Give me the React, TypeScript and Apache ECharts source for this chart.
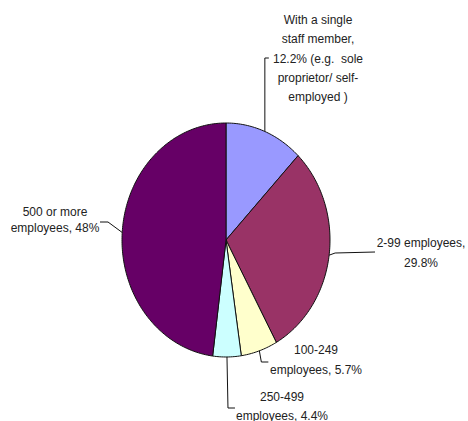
import React, { useEffect, useRef } from "react";
import * as echarts from "echarts";

const categories = [
  "With a single\nstaff member,\n12.2% (e.g.  sole\nproprietor/ self-\nemployed )",
  "2-99 employees,\n29.8%",
  "100-249\nemployees, 5.7%",
  "250-499\nemployees, 4.4%",
  "500 or more\nemployees, 48%",
];
const values = [12.2, 29.8, 5.7, 4.4, 48];
const colors = ["#9999FF", "#993366", "#FFFFCC", "#CCFFFF", "#660066"];

// layout (not data)
const CX = 226, CY = 240, RX = 104, RY = 117;
const labelPos = [
  { x: 318, y: 58.5, lh: 19.2 },
  { x: 421, y: 253, lh: 20 },
  { x: 316, y: 360, lh: 20 },
  { x: 282, y: 406.5, lh: 19 },
  { x: 55, y: 220, lh: 16 },
];
const leaderBends: ((a: number[]) => number[][])[] = [
  (a) => [[a[0], 58], [a[0] + 4, 58]],
  (a) => [[a[0] + 6, 253], [375, 252]],
  (a) => [[a[0] + 2, 362], [a[0] + 9, 362]],
  (a) => [[a[0] + 1, 408], [a[0] + 8, 408]],
  (a) => [[108, 222], [100, 222]],
];

function pt(frac: number) {
  const t = frac * Math.PI * 2;
  return [CX + RX * Math.sin(t), CY - RY * Math.cos(t)];
}

export default function App() {
  const ref = useRef<HTMLDivElement>(null);
  useEffect(() => {
    if (!ref.current) return;
    const chart = echarts.init(ref.current, undefined, { renderer: "svg" });
    const total = values.reduce((s, v) => s + v, 0);
    chart.setOption({
      animation: false,
      backgroundColor: "#ffffff",
      series: [
        {
          type: "custom",
          coordinateSystem: "none",
          data: values.map((v, i) => ({ value: [v], name: categories[i] })),
          renderItem: (params: any, api: any) => {
            const i = params.dataIndex;
            const v = api.value(0);
            let start = 0;
            for (let j = 0; j < i; j++) start += values[j];
            const f0 = start / total;
            const f1 = (start + v) / total;
            const n = Math.max(8, Math.ceil((f1 - f0) * 360));
            const pts: number[][] = [[CX, CY]];
            for (let k = 0; k <= n; k++) pts.push(pt(f0 + ((f1 - f0) * k) / n));
            const anchor = pt((f0 + f1) / 2);
            const lp = labelPos[i];
            return {
              type: "group",
              children: [
                {
                  type: "polygon",
                  shape: { points: pts },
                  style: { fill: colors[i], stroke: "#111", lineWidth: 1 },
                },
                {
                  type: "polyline",
                  shape: { points: [anchor, ...leaderBends[i](anchor)] },
                  style: { fill: "none", stroke: "#111", lineWidth: 1 },
                },
                {
                  type: "text",
                  style: {
                    text: categories[i],
                    x: lp.x,
                    y: lp.y,
                    textAlign: "center",
                    textVerticalAlign: "middle",
                    fontFamily: "Liberation Sans, Arial, sans-serif",
                    fontSize: 12,
                    lineHeight: lp.lh,
                    fill: "#222",
                  },
                },
              ],
            };
          },
        },
      ],
    });
    return () => chart.dispose();
  }, []);
  return (
    <div
      ref={ref}
      style={{ position: "fixed", left: 0, top: 0, width: 468, height: 421 }}
    />
  );
}
